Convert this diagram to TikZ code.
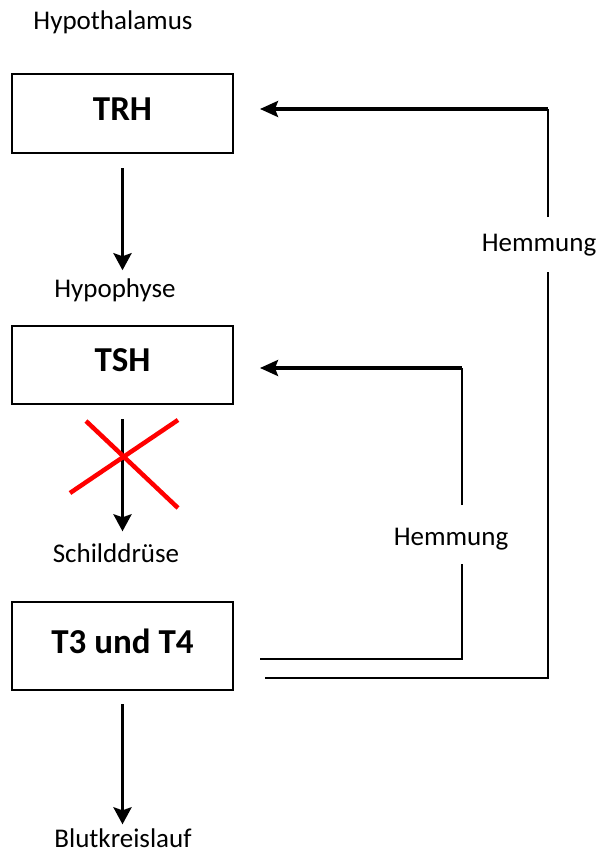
\documentclass[tikz,border=0pt]{standalone}
\usepackage{fontspec}
\setmainfont{Carlito}
\usetikzlibrary{arrows.meta}
\begin{document}
\begin{tikzpicture}[x=1pt,y=-1pt,
  lbl/.style={inner sep=0pt, font=\fontsize{27}{30}\selectfont},
  box/.style={draw, line width=2.3pt, minimum width=221pt, inner sep=0pt,
              font=\bfseries\fontsize{35}{40}\selectfont},
  down/.style={line width=3.8pt, -{Stealth[length=17pt,width=18pt,inset=3pt]}},
  fb/.style={line width=2pt},
  fbhead/.style={line width=3.2pt, -{Stealth[length=18pt,width=16pt,inset=3pt]}},
  cross/.style={draw=red, line width=4.5pt}]
\useasboundingbox (0,0) rectangle (603,853);

% stations of the axis
\node[lbl] (hypo) at (113,22) {Hypothalamus};
\node[box, minimum height=79pt] (trh) at (122.5,113.5) {\raisebox{9pt}{TRH}};
\node[lbl] (hyph) at (115,290) {Hypophyse};
\node[box, minimum height=78pt] (tsh) at (122.5,365) {\raisebox{10pt}{TSH}};
\node[lbl] (schild) at (116,553) {Schilddrüse};
\node[box, minimum height=88pt] (t34) at (122.5,646) {\raisebox{10pt}{T3 und T4}};
\node[lbl] (blut) at (123,838) {Blutkreislauf};

% downward signalling
\draw[down, shorten <=14pt, shorten >=8pt] (trh) -- (trh |- hyph.north);
\draw[down, shorten <=14pt, shorten >=12pt] (tsh) -- (tsh |- schild.north);
\draw[down, shorten <=13pt, shorten >=4pt] (t34) -- (t34 |- blut.north);

% blocked TSH pathway
\coordinate (xa) at (86,421);  \coordinate (xb) at (178,508);
\coordinate (xc) at (178,420); \coordinate (xd) at (70,493);
\draw[cross] (xa) -- (xb);
\draw[cross] (xc) -- (xd);

% inner feedback loop: T3/T4 inhibits TSH
\node[lbl] (hem1) at (451,539) {Hemmung};
\coordinate (i0) at (260,659);
\coordinate (i1) at (462,564);
\coordinate (i2) at (462,505);
\coordinate (i3) at (462,368);
\coordinate (i4) at (260,368);
\draw[fb] (i0) -| (i1);
\draw[fb] (i2) -- (i3);
\draw[fbhead] (i3) -- (i4);

% outer feedback loop: T3/T4 inhibits TRH
\node[lbl] (hem2) at (539,245) {Hemmung};
\coordinate (o0) at (265,678);
\coordinate (o1) at (548,272);
\coordinate (o2) at (548,217);
\coordinate (o3) at (548,109);
\coordinate (o4) at (260,109);
\draw[fb] (o0) -| (o1);
\draw[fb] (o2) -- (o3);
\draw[fbhead] (o3) -- (o4);
\end{tikzpicture}
\end{document}
